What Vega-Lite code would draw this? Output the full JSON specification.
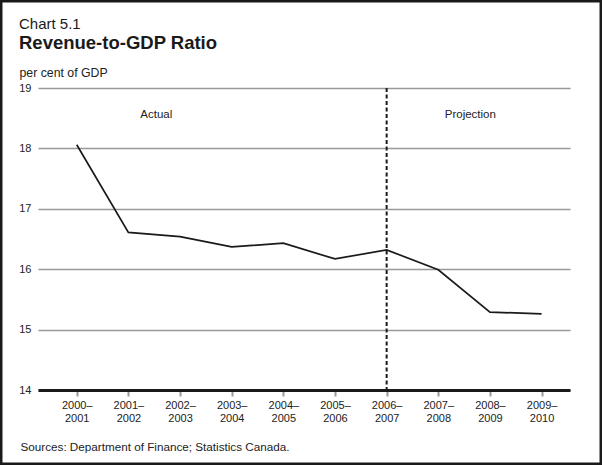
{
  "$schema": "https://vega.github.io/schema/vega-lite/v6.json",
  "autosize": {"type": "none"},
  "width": 532,
  "height": 302,
  "padding": {"left": 38, "top": 88, "right": 32, "bottom": 75},
  "background": "white",
  "title": {
    "text": "Chart 5.1",
    "subtitle": "Revenue-to-GDP Ratio",
    "anchor": "start",
    "frame": "group",
    "dx": -19,
    "offset": -55,
    "font": "Liberation Sans",
    "fontSize": 15,
    "fontWeight": "normal",
    "color": "#1a1a1a",
    "subtitleFont": "Liberation Sans",
    "subtitleFontSize": 18.5,
    "subtitleFontWeight": "bold",
    "subtitleColor": "#1a1a1a",
    "subtitlePadding": 2
  },
  "config": {
    "view": {"stroke": null},
    "font": "Liberation Sans"
  },
  "layer": [
    {
      "data": {"values": [
        {"year": 2000, "ratio": 18.06},
        {"year": 2001, "ratio": 16.61},
        {"year": 2002, "ratio": 16.54},
        {"year": 2003, "ratio": 16.37},
        {"year": 2004, "ratio": 16.43},
        {"year": 2005, "ratio": 16.17},
        {"year": 2006, "ratio": 16.32},
        {"year": 2007, "ratio": 15.99},
        {"year": 2008, "ratio": 15.29},
        {"year": 2009, "ratio": 15.26}
      ]},
      "mark": {"type": "line", "color": "#1a1a1a", "strokeWidth": 1.7},
      "encoding": {
        "x": {
          "field": "year", "type": "quantitative",
          "scale": {"domain": [1999.25, 2009.55], "nice": false, "zero": false},
          "axis": {
            "values": [2000, 2001, 2002, 2003, 2004, 2005, 2006, 2007, 2008, 2009],
            "labelExpr": "[format(datum.value, 'd') + '–', format(datum.value + 1, 'd')]",
            "labelFont": "Liberation Sans",
            "labelFontSize": 11,
            "labelColor": "#222",
            "labelBaseline": "top",
            "labelLineHeight": 13.5,
            "labelPadding": 3,
            "labelFlush": false,
            "labelOverlap": false,
            "grid": false,
            "domain": true,
            "domainColor": "#1a1a1a",
            "domainWidth": 3,
            "ticks": true,
            "tickColor": "#999999",
            "tickWidth": 2,
            "tickSize": 6,
            "title": "Sources: Department of Finance; Statistics Canada.",
            "titleFont": "Liberation Sans",
            "titleFontSize": 11.7,
            "titleFontWeight": "normal",
            "titleColor": "#222",
            "titleAnchor": "start",
            "titleAlign": "left",
            "titleBaseline": "alphabetic",
            "titleX": -18,
            "titleY": 60
          }
        },
        "y": {
          "field": "ratio", "type": "quantitative",
          "scale": {"domain": [14, 19], "nice": false, "zero": false},
          "axis": {
            "values": [14, 15, 16, 17, 18, 19],
            "format": "d",
            "labelFont": "Liberation Sans",
            "labelFontSize": 11,
            "labelColor": "#222",
            "labelPadding": 7,
            "domain": false,
            "ticks": false,
            "grid": true,
            "gridColor": "#999999",
            "gridWidth": 1.6,
            "title": "per cent of GDP",
            "titleFont": "Liberation Sans",
            "titleFontSize": 12.3,
            "titleFontWeight": "normal",
            "titleColor": "#222",
            "titleAngle": 0,
            "titleAlign": "left",
            "titleBaseline": "alphabetic",
            "titleX": -19,
            "titleY": -12
          }
        }
      }
    },
    {
      "data": {"values": [{}]},
      "mark": {"type": "rule", "color": "#1a1a1a", "strokeWidth": 2, "strokeDash": [4, 2.5]},
      "encoding": {
        "x": {"datum": 2006, "type": "quantitative"},
        "y": {"datum": 19, "type": "quantitative"},
        "y2": {"datum": 14}
      }
    },
    {
      "data": {"values": [{}]},
      "mark": {"type": "text", "font": "Liberation Sans", "fontSize": 11.5, "color": "#222", "align": "center", "baseline": "alphabetic"},
      "encoding": {
        "x": {"datum": 2001.54, "type": "quantitative"},
        "y": {"datum": 18.51, "type": "quantitative"},
        "text": {"value": "Actual"}
      }
    },
    {
      "data": {"values": [{}]},
      "mark": {"type": "text", "font": "Liberation Sans", "fontSize": 11.5, "color": "#222", "align": "center", "baseline": "alphabetic"},
      "encoding": {
        "x": {"datum": 2007.62, "type": "quantitative"},
        "y": {"datum": 18.51, "type": "quantitative"},
        "text": {"value": "Projection"}
      }
    },
    {
      "data": {"values": [{}]},
      "mark": {"type": "rect", "fillOpacity": 0, "stroke": "#1a1a1a", "strokeWidth": 5},
      "encoding": {
        "x": {"datum": 1998.514, "type": "quantitative"},
        "x2": {"datum": 2010.17},
        "y": {"datum": 20.457, "type": "quantitative"},
        "y2": {"datum": 12.758}
      }
    }
  ]
}
